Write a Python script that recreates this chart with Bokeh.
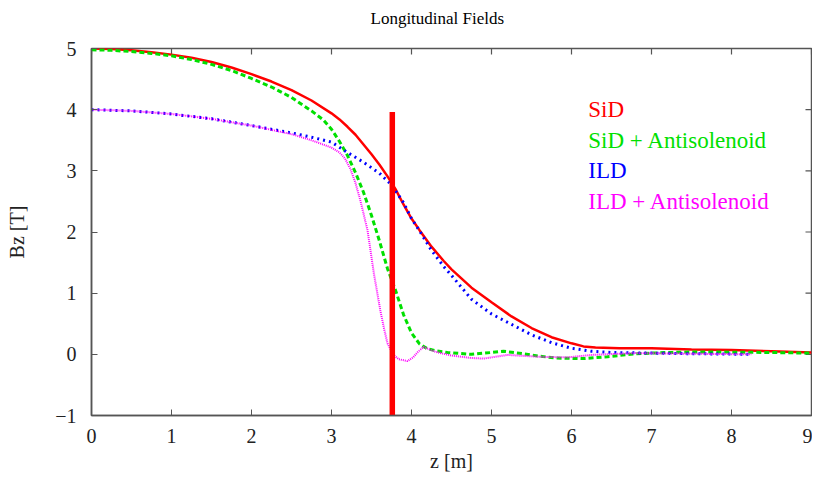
from bokeh.plotting import figure
from bokeh.models import Range1d, FixedTicker, ColumnDataSource
from bokeh.core.properties import value
from bokeh.embed import file_html
from bokeh.resources import INLINE

# ---- data ----
sid_z = [0, 0.25, 0.5, 0.75, 1.0, 1.25, 1.5, 1.75, 2.0, 2.25, 2.5, 2.75, 3.0, 3.1, 3.2, 3.3, 3.4, 3.5, 3.6, 3.7,
         3.8, 3.9, 4.0, 4.1, 4.25, 4.4, 4.5, 4.75, 5.0, 5.25, 5.5, 5.75, 6.0, 6.15, 6.3, 6.6, 7.0, 7.5, 8.0, 8.5, 9.0]
sid_b = [5.0, 4.99, 4.97, 4.94, 4.90, 4.85, 4.78, 4.69, 4.58, 4.46, 4.32, 4.15, 3.94, 3.84, 3.72, 3.59, 3.43, 3.27, 3.10, 2.91,
         2.70, 2.45, 2.22, 2.03, 1.76, 1.53, 1.39, 1.09, 0.85, 0.62, 0.43, 0.28, 0.18, 0.13, 0.11, 0.10, 0.10, 0.08, 0.07, 0.05, 0.03]

sida_z = [0, 0.25, 0.5, 0.75, 1.0, 1.25, 1.5, 1.75, 2.0, 2.25, 2.5, 2.75, 2.9, 3.0, 3.1, 3.2, 3.3, 3.4, 3.5, 3.6, 3.7,
          3.8, 3.9, 4.0, 4.1, 4.2, 4.3, 4.45, 4.75, 5.0, 5.15, 5.4, 5.6, 5.8, 6.15, 6.45, 6.8, 7.2, 7.6, 8.5, 9.0]
sida_b = [4.98, 4.97, 4.95, 4.92, 4.88, 4.82, 4.74, 4.64, 4.51, 4.37, 4.20, 3.98, 3.83, 3.68, 3.48, 3.25, 2.97, 2.65, 2.27, 1.85, 1.40,
          1.05, 0.65, 0.35, 0.17, 0.09, 0.06, 0.03, 0.0, 0.03, 0.05, 0.01, -0.03, -0.06, -0.07, -0.04, 0.01, 0.03, 0.04, 0.03, 0.02]

ild_z = [0, 0.5, 1.0, 1.5, 2.0, 2.5, 2.75, 3.0, 3.2, 3.4, 3.6, 3.75, 3.9, 4.0, 4.1, 4.25, 4.4, 4.5, 4.75, 5.0, 5.25, 5.5,
         5.75, 6.0, 6.25, 6.5, 7.0, 7.5, 8.25]
ild_b = [4.0, 3.98, 3.93, 3.85, 3.74, 3.62, 3.55, 3.47, 3.30, 3.14, 2.96, 2.77, 2.48, 2.22, 2.02, 1.70, 1.44, 1.29, 0.90, 0.66, 0.49, 0.32,
         0.19, 0.10, 0.05, 0.03, 0.02, 0.01, 0.0]

ilda_z = [0, 0.5, 1.0, 1.5, 2.0, 2.5, 2.75, 3.0, 3.1, 3.17, 3.24, 3.3, 3.36, 3.45, 3.53, 3.61, 3.66, 3.7, 3.77, 3.84, 3.95,
          4.02, 4.08, 4.15, 4.3, 4.5, 4.75, 4.9, 5.2, 5.6, 5.95, 6.25, 6.8, 7.5, 8.25]
ilda_b = [4.0, 3.98, 3.93, 3.85, 3.74, 3.60, 3.50, 3.38, 3.30, 3.20, 3.02, 2.80, 2.52, 2.03, 1.32, 0.72, 0.40, 0.18, 0.0, -0.08, -0.11,
          -0.05, 0.04, 0.12, 0.04, -0.02, -0.06, -0.07, -0.01, -0.04, -0.05, -0.01, 0.02, 0.01, 0.0]

legend_labels = ["SiD", "SiD + Antisolenoid", "ILD", "ILD + Antisolenoid"]
legend_colors = ["#ff0000", "#00e000", "#0000ff", "#ff00ff"]
legend_x = [6.21, 6.21, 6.21, 6.21]
legend_y = [4.0, 3.5, 3.0, 2.5]

x_ticks = [0, 1, 2, 3, 4, 5, 6, 7, 8, 9]
y_ticks = [-1, 0, 1, 2, 3, 4, 5]

marker_z = [3.76]
marker_top = [3.96]
marker_bottom = [-1.0]

title_text = "Longitudinal Fields"
xlabel_text = "z [m]"
ylabel_text = "Bz [T]"

SERIF = "Liberation Serif"
FRAME = "#555555"
X0, X1, Y0, Y1 = 0, 9, -1, 5

p = figure(width=812, height=479, output_backend="svg", toolbar_location=None,
           x_range=Range1d(X0, X1), y_range=Range1d(Y0, Y1),
           min_border_left=91, min_border_right=1, min_border_top=48, min_border_bottom=64)
p.grid.visible = False
p.outline_line_color = FRAME
p.outline_line_width = 1.5

# trailing blank line lifts the title towards the top edge, as in the reference
p.title.text = title_text + "\n"
p.title.align = "left"
p.title.offset = 279
p.title.vertical_align = "bottom"
p.title.standoff = 4
p.title.text_font = SERIF
p.title.text_font_size = "17px"
p.title.text_font_style = "normal"
p.title.text_color = "black"

for ax in [p.xaxis[0], p.yaxis[0]]:
    ax.major_label_text_font = SERIF
    ax.major_label_text_font_size = "20px"
    ax.major_label_text_color = "#222222"
    ax.axis_label_text_font = SERIF
    ax.axis_label_text_font_size = "20px"
    ax.axis_label_text_font_style = "normal"
    ax.axis_label_text_color = "#222222"
    ax.axis_line_color = FRAME
    ax.axis_line_width = 1.5
    ax.major_tick_line_color = FRAME
    ax.major_tick_in = 6
    ax.major_tick_out = 0
    ax.minor_tick_line_color = None

p.xaxis[0].ticker = FixedTicker(ticks=x_ticks)
p.xaxis[0].major_label_standoff = 13
p.xaxis[0].axis_label = xlabel_text
p.xaxis[0].axis_label_standoff = 4
p.yaxis[0].ticker = FixedTicker(ticks=y_ticks)
p.yaxis[0].major_label_standoff = 15
p.yaxis[0].axis_label = ylabel_text
p.yaxis[0].axis_label_standoff = 24

# mirror ticks on the top and right edges of the frame
p.segment(x0=x_ticks, x1=x_ticks, y0=[Y1] * len(x_ticks), y1=[Y1 - 0.1] * len(x_ticks),
          line_color=FRAME, line_width=1.2)
p.segment(x0=[X1] * len(y_ticks), x1=[X1 - 0.075] * len(y_ticks), y0=y_ticks, y1=y_ticks,
          line_color=FRAME, line_width=1.2)

p.line(sid_z, sid_b, line_color="#ff0000", line_width=2.5)
p.line(sida_z, sida_b, line_color="#00e000", line_width=3, line_dash="5 3")
p.line(ild_z, ild_b, line_color="#0000ff", line_width=3, line_dash="2 4")
p.line(ilda_z, ilda_b, line_color="#ff00ff", line_width=2, line_dash="1 1")

p.segment(x0=marker_z, x1=marker_z, y0=marker_bottom, y1=marker_top,
          line_color="#ff0000", line_width=5.5)

src = ColumnDataSource(dict(x=legend_x, y=legend_y, t=legend_labels, c=legend_colors))
p.text(x="x", y="y", text="t", text_color="c", source=src, text_font=value(SERIF),
       text_font_size="23px", text_baseline="middle", text_align="left")

open("out.html", "w").write(file_html(p, INLINE))
